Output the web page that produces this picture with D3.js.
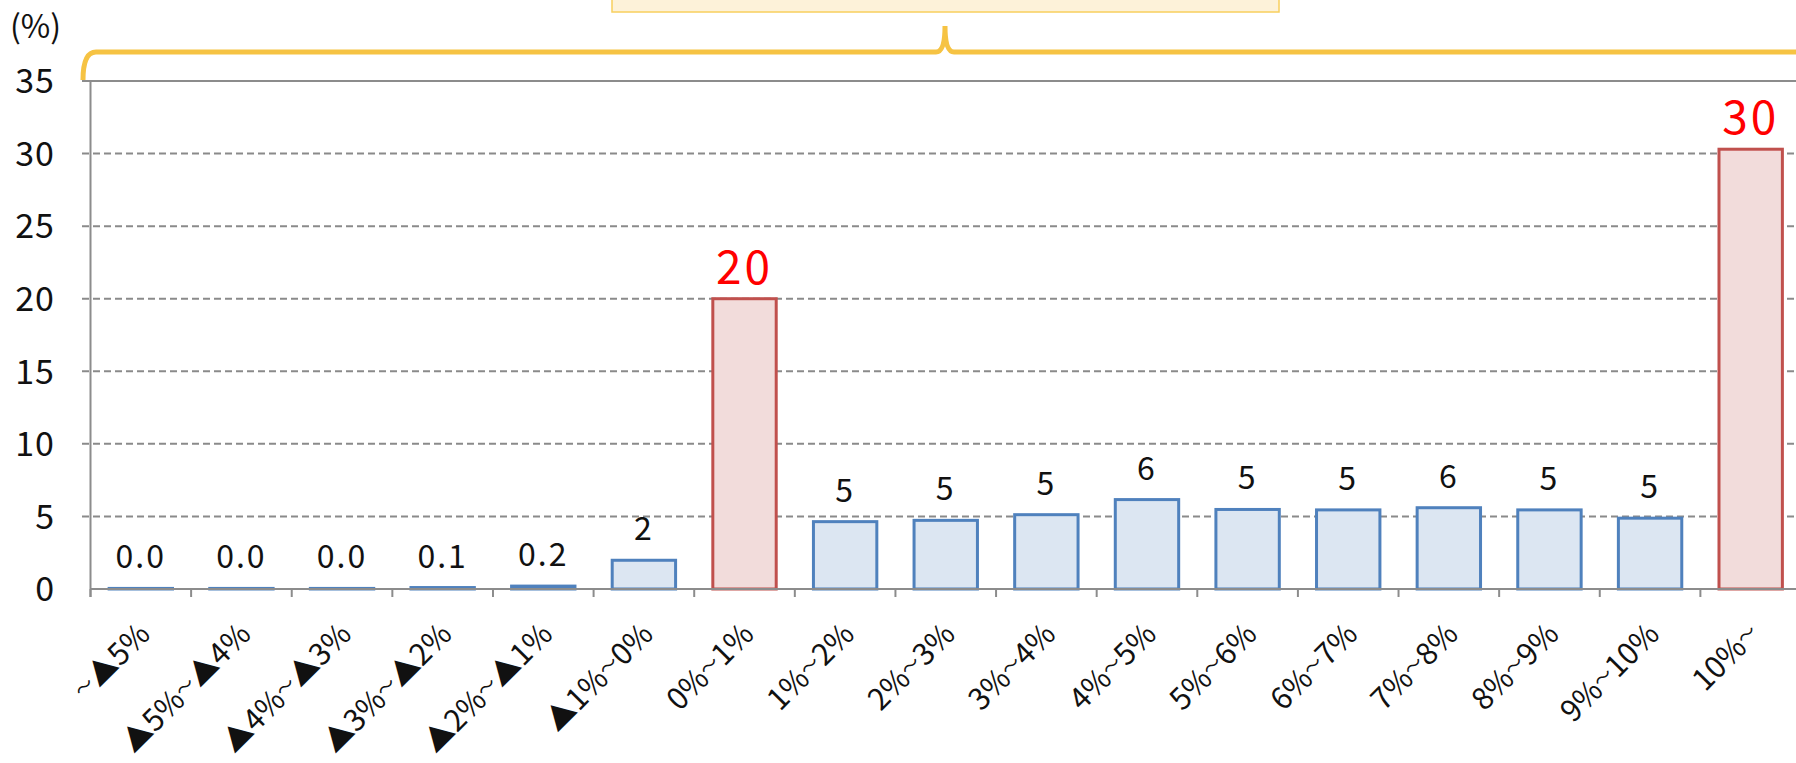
<!DOCTYPE html>
<meta charset="utf-8">
<style>
body { margin: 0; background: #fff; }
svg { display: block; font-family: "Noto Sans CJK JP", "Noto Sans", sans-serif; }
.grid line { stroke: #8a8a8a; stroke-width: 2; stroke-dasharray: 7,4; }
.axisline { stroke: #8c8c8c; stroke-width: 2; }
</style>
<body>
<svg width="1796" height="763"></svg>
<script src="https://cdn.jsdelivr.net/npm/d3@7"></script>
<script>

// categories (x axis), values (%), highlighted categories, y ticks
var categories = ["～▲5%", "▲5%～▲4%", "▲4%～▲3%", "▲3%～▲2%", "▲2%～▲1%", "▲1%～0%",
                  "0%～1%", "1%～2%", "2%～3%", "3%～4%", "4%～5%", "5%～6%",
                  "6%～7%", "7%～8%", "8%～9%", "9%～10%", "10%～"];
var values = [0.04, 0.04, 0.04, 0.1, 0.2, 1.98,
              20.0, 4.64, 4.73, 5.12, 6.16, 5.48,
              5.45, 5.6, 5.45, 4.88, 30.3];
var highlighted = ["0%～1%", "10%～"];
var yTicks = [0, 5, 10, 15, 20, 25, 30, 35];

var svg = d3.select("svg"),
    width = +svg.attr("width"),
    height = +svg.attr("height");

var x = d3.scaleBand()
    .domain(categories)
    .range([90.5, 1801])
    .paddingInner(0.37)
    .paddingOuter(0.185);

var y = d3.scaleLinear()
    .domain([0, 35])
    .range([589, 81]);

function boundary(d) { return x(d) - (x.step() - x.bandwidth()) / 2; }
function isHi(d) { return highlighted.indexOf(d) >= 0; }

// callout box (cut off at top) and brace
svg.append("rect")
    .attr("x", 612)
    .attr("y", -40)
    .attr("width", 667)
    .attr("height", 52)
    .attr("fill", "#fdf2d9")
    .attr("stroke", "#f8cf5e")
    .attr("stroke-width", 1.5);

var mid = 945, by = 52;
svg.append("path")
    .attr("d", "M83,80 Q83," + by + " 96," + by +
               " L" + (mid - 9) + "," + by + " Q" + mid + "," + by + " " + mid + ",26" +
               " Q" + mid + "," + by + " " + (mid + 9) + "," + by +
               " L1795," + by + " Q1808," + by + " 1808,80")
    .attr("fill", "none")
    .attr("stroke", "#f6c343")
    .attr("stroke-width", 5);

svg.append("text")
    .attr("x", 10)
    .attr("y", 38)
    .attr("font-size", 32)
    .attr("fill", "#111")
    .text("(%)");

// gridlines
svg.append("g")
    .attr("class", "grid")
  .selectAll("line")
    .data(yTicks.filter(function(d) { return d > 0 && d < 35; }))
  .enter().append("line")
    .attr("x1", 82)
    .attr("x2", width)
    .attr("y1", function(d) { return y(d); })
    .attr("y2", function(d) { return y(d); });

// top border at 35
svg.append("line")
    .attr("class", "axisline")
    .attr("x1", 82).attr("x2", width)
    .attr("y1", y(35)).attr("y2", y(35));

// y axis
svg.append("line")
    .attr("class", "axisline")
    .attr("x1", x.range()[0]).attr("x2", x.range()[0])
    .attr("y1", y(35)).attr("y2", y(0) + 8);

svg.append("g")
  .selectAll("text")
    .data(yTicks)
  .enter().append("text")
    .attr("x", 55)
    .attr("y", function(d) { return y(d); })
    .attr("dy", "0.36em")
    .attr("text-anchor", "end")
    .attr("font-size", 34)
    .attr("letter-spacing", 1)
    .attr("fill", "#111")
    .text(function(d) { return d; });

// bars
svg.append("g")
  .selectAll("rect")
    .data(categories)
  .enter().append("rect")
    .attr("x", function(d) { return x(d); })
    .attr("width", x.bandwidth())
    .attr("y", function(d, i) { return y(values[i]); })
    .attr("height", function(d, i) { return y(0) - y(values[i]); })
    .attr("fill", function(d) { return isHi(d) ? "#f2dcdb" : "#dce6f2"; })
    .attr("stroke", function(d) { return isHi(d) ? "#c0504d" : "#4f81bd"; })
    .attr("stroke-width", 3);

// x axis line and ticks between categories
svg.append("line")
    .attr("class", "axisline")
    .attr("x1", x.range()[0]).attr("x2", width)
    .attr("y1", y(0)).attr("y2", y(0));

svg.append("g")
  .selectAll("line")
    .data(categories)
  .enter().append("line")
    .attr("class", "axisline")
    .attr("x1", boundary).attr("x2", boundary)
    .attr("y1", y(0)).attr("y2", y(0) + 8);

// value labels
svg.append("g")
  .selectAll("text")
    .data(categories)
  .enter().append("text")
    .attr("x", function(d) { return x(d) + x.bandwidth() / 2; })
    .attr("y", function(d, i) { return y(values[i]) - (isHi(d) ? 15 : 20); })
    .attr("text-anchor", "middle")
    .attr("font-size", function(d) { return isHi(d) ? 46 : 32; })
    .attr("letter-spacing", function(d) { return isHi(d) ? 3 : 2; })
    .attr("fill", function(d) { return isHi(d) ? "#ff0000" : "#111"; })
    .text(function(d, i) { return values[i] < 1 ? values[i].toFixed(1) : values[i].toFixed(0); });

// category labels, rotated; the full-width tilde is drawn smaller, as in the original
var cat = svg.append("g")
  .selectAll("text")
    .data(categories)
  .enter().append("text")
    .attr("transform", function(d) {
      return "translate(" + (x(d) + x.bandwidth() / 2 + 11) + ",636) rotate(-45)";
    })
    .attr("text-anchor", "end")
    .attr("font-size", 30)
    .attr("fill", "#111");

cat.each(function(d) {
  var t = d3.select(this);
  d.split("～").forEach(function(part, k) {
    if (k > 0) t.append("tspan").attr("font-size", 19).attr("dy", -5).text("～");
    if (part) t.append("tspan").attr("dy", k > 0 ? 5 : null).text(part);
  });
});

</script>
</body>
